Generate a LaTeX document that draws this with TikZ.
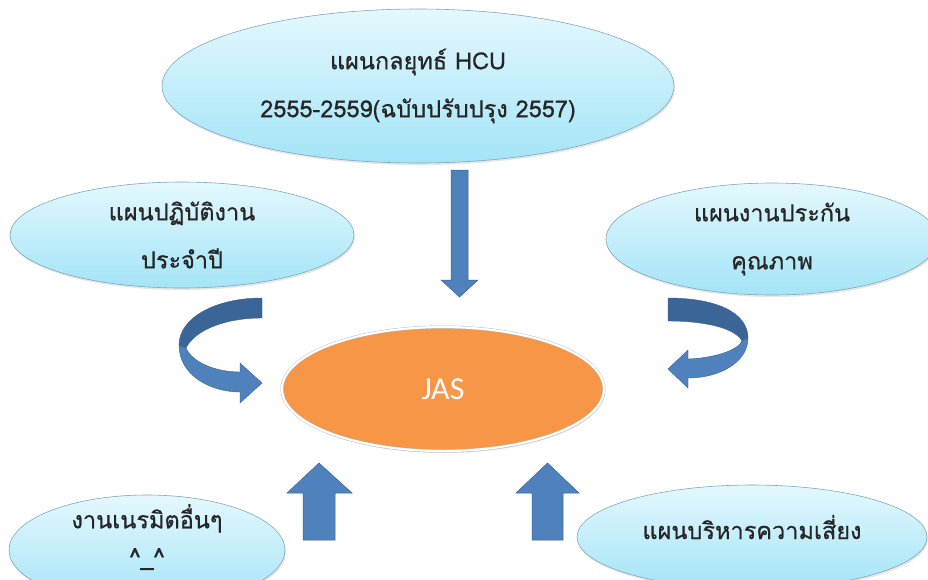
\documentclass[tikz,border=0pt]{standalone}
\usepackage{fontspec}
\usepackage{tikz}
\usetikzlibrary{shapes.geometric,shadows,positioning}
\newfontfamily\thaifont[Script=Thai,FakeBold=0.7]{Loma}
\newfontfamily\jasfont{Carlito}

\definecolor{skytop}{HTML}{E4F8FE}
\definecolor{skybot}{HTML}{A3E4F7}
\definecolor{skyline}{HTML}{7FA8BC}
\definecolor{jasorange}{HTML}{F79646}
\definecolor{arrblue}{HTML}{4F81BD}
\definecolor{arrdark}{HTML}{3B6597}
\definecolor{arrline}{HTML}{3A6394}

\tikzset{
  plan/.style={ellipse,draw=skyline,line width=0.6pt,top color=skytop,bottom color=skybot,
    inner sep=0pt,align=center,font={\thaifont\fontsize{23.5}{48}\selectfont},
    text=black!85,
    drop shadow={opacity=0.2,shadow xshift=1pt,shadow yshift=-2pt}},
  core/.style={ellipse,fill=jasorange,draw=gray!55,double=white,double distance=2.2pt,
    inner sep=0pt,text=white,font={\jasfont\fontsize{32}{34}\selectfont},
    drop shadow={opacity=0.25,shadow xshift=1pt,shadow yshift=-2pt}},
  blockarr/.style={fill=arrblue,draw=arrline,line width=0.5pt,line join=miter},
  bentdark/.style={fill=arrdark,draw=arrline,line width=0.4pt},
  bentlight/.style={fill=arrblue,draw=arrline,line width=0.4pt}
}

\begin{document}
\begin{tikzpicture}[x=1pt,y=-1pt]
  \useasboundingbox (0,0) rectangle (928,579);
  \clip (0,0) rectangle (928,579);

  % Plans round the centre
  \node[plan,minimum width=512,minimum height=154] (strat) at (418,86)
    {แผนกลยุทธ์ HCU\\2555-2559(ฉบับปรับปรุง 2557)};
  \node[plan,minimum width=344,minimum height=106] (yearly) at (182,235)
    {แผนปฏิบัติงาน\\ประจำปี};
  \node[plan,minimum width=332,minimum height=112] (quality) at (772,239)
    {แผนงานประกัน\\คุณภาพ};
  \node[plan,minimum width=276,minimum height=110] (other) at (147,550) {};
  \node[align=center,text=black!85,font={\thaifont\fontsize{23.5}{37}\selectfont}] (otherlbl) at (147,537)
    {งานเนรมิตอื่นๆ\\\^{}\_\^{}};
  \node[plan,minimum width=350,minimum height=104] (risk) at (752,537) {};
  \node[text=black!85,font={\thaifont\fontsize{23.5}{48}\selectfont}] (risklbl) at (752,527)
    {แผนบริหารความเสี่ยง};

  % Centre
  \node[core,minimum width=322,minimum height=124] (jas) at (443,389) {JAS};

  % Straight block arrows
  \draw[blockarr] (451,170) -- (468,170) -- (468,280) -- (478,280) -- (459.5,297)
    -- (441,280) -- (451,280) -- cycle;
  \draw[blockarr] (303,540) -- (335,540) -- (335,493) -- (352,493) -- (319,463)
    -- (287,493) -- (303,493) -- cycle;
  \draw[blockarr] (532,540) -- (563,540) -- (563,493) -- (579,493) -- (547.5,463)
    -- (516,493) -- (532,493) -- cycle;

  % Bent arrow, left
  \draw[bentdark] (262,298) .. controls (215,298) and (179,318) .. (179,345)
    -- (186,348) .. controls (195,330) and (225,318) .. (262,318) -- cycle;
  \draw[bentlight] (179,345) .. controls (179,375) and (210,392) .. (240,392)
    -- (240,403) -- (262,383) -- (240,363) -- (240,372)
    .. controls (215,372) and (192,362) .. (186,348) -- cycle;

  % Bent arrow, right
  \draw[bentdark] (668,298) .. controls (715,298) and (748,312) .. (748,338)
    -- (742,341) .. controls (735,328) and (705,321) .. (668,321) -- cycle;
  \draw[bentlight] (748,338) .. controls (748,362) and (720,378) .. (688,378)
    -- (688,388) -- (668,369) -- (688,350) -- (688,359)
    .. controls (715,358) and (738,350) .. (742,341) -- cycle;
\end{tikzpicture}
\end{document}
